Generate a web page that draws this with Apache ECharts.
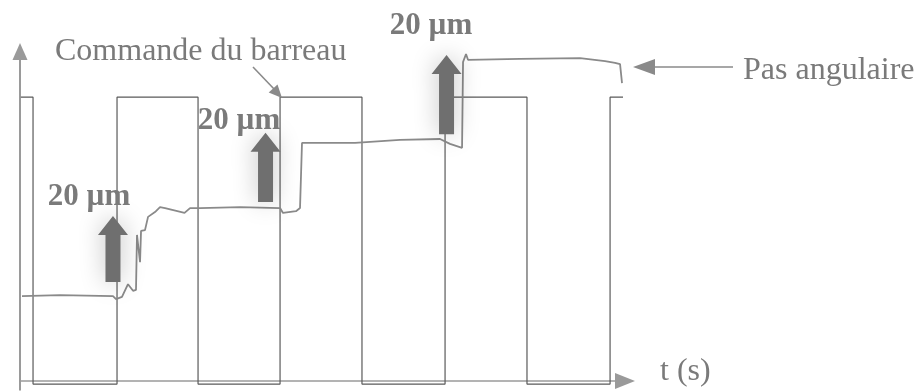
<!DOCTYPE html>
<html><head><meta charset="utf-8">
<script src="https://cdn.jsdelivr.net/npm/echarts@6/dist/echarts.min.js"></script>
<style>html,body{margin:0;padding:0;background:#fff}#c{width:917px;height:391px}</style>
</head><body><div id="c"></div>
<script>
// Time axis in half-periods of the command signal, vertical axis in arbitrary units (~20 per step)
const cmdT     = [0.01, 0.158, 1.176, 2.158, 3.152, 4.145, 5.152, 6.145, 7.152, 7.309];
const cmdLevel = [64.5, -0.7, 64.5, -0.7, 64.5, -0.7, 64.5, -0.7, 64.5, 64.5];

const stepT = [0.024, 0.485, 1.127, 1.164, 1.236, 1.309, 1.370, 1.406, 1.418, 1.430, 1.455, 1.467, 1.515, 1.552, 1.636, 1.697, 1.758, 1.994, 2.061, 2.182, 2.667, 3.152, 3.188, 3.345, 3.394, 3.418, 4.061, 4.606, 5.091, 5.212, 5.358, 5.370, 5.406, 5.430, 6.061, 6.788, 7.091, 7.212, 7.273, 7.297];
const stepV = [19.3, 19.5, 19.3, 18.6, 19.1, 22.0, 20.5, 20.7, 33.2, 33.6, 27.0, 34.1, 34.3, 37.3, 38.4, 39.5, 39.3, 38.2, 39.3, 39.3, 39.5, 39.3, 38.2, 38.6, 39.3, 54.1, 54.1, 54.8, 55.0, 53.9, 53.0, 72.5, 74.3, 73.0, 73.2, 73.4, 72.7, 72.3, 72.0, 67.7];

const arrowT    = [1.127, 2.976, 5.170];
const arrowFrom = [22.5, 40.7, 56.1];
const arrowTo   = [37.5, 56.4, 74.1];
const stepLabel = '20 µm';

const chart = echarts.init(document.getElementById('c'), null, {renderer: 'canvas'});
const serif = '"Liberation Serif", "Times New Roman", serif';
const txtCol = '#7a7a7a';

function txt(x, y, s, size, bold, align) {
  return {type: 'text', x: x, y: y, z: 50, silent: true,
    style: {text: s, font: (bold ? 'bold ' : '') + size + 'px ' + serif, fill: txtCol,
      textAlign: align, align: align, textVerticalAlign: 'middle', verticalAlign: 'middle'}};
}

chart.setOption({
  animation: false,
  backgroundColor: '#ffffff',
  grid: {left: 20, top: 51.44, width: 605, height: 338.36},
  xAxis: {type: 'value', min: 0, max: 7.333,
    axisLine: {onZero: true, symbol: ['none', 'triangle'], symbolSize: [16, 20], lineStyle: {color: '#9a9a9a', width: 1.5}},
    axisTick: {show: false}, axisLabel: {show: false}, splitLine: {show: false}},
  yAxis: {type: 'value', min: -2, max: 74.9,
    axisLine: {onZero: true, symbol: ['none', 'triangle'], symbolSize: [15, 17], lineStyle: {color: '#9a9a9a', width: 2}},
    axisTick: {show: false}, axisLabel: {show: false}, splitLine: {show: false}},
  series: [
    {type: 'line', name: 'Commande du barreau', step: 'end', symbol: 'none', z: 3,
      data: cmdT.map((t, i) => [t, cmdLevel[i]]),
      lineStyle: {color: '#5a5a5a', width: 1.2}},
    {type: 'line', name: 'Pas angulaire', symbol: 'none', z: 4,
      data: stepT.map((t, i) => [t, stepV[i]]),
      lineStyle: {color: '#8a8a8a', width: 1.8}},
    {type: 'custom', name: 'steps', z: 10,
      data: arrowT.map((t, i) => [t, arrowFrom[i], arrowTo[i]]),
      encode: {x: 0, y: [1, 2]},
      renderItem: function (params, api) {
        const p0 = api.coord([api.value(0), api.value(1)]);
        const p1 = api.coord([api.value(0), api.value(2)]);
        const cx = p0[0], sw = 7.5, hw = 15, hl = 19;
        return {type: 'polygon',
          shape: {points: [[cx - sw, p0[1]], [cx - sw, p1[1] + hl], [cx - hw, p1[1] + hl], [cx, p1[1]],
                           [cx + hw, p1[1] + hl], [cx + sw, p1[1] + hl], [cx + sw, p0[1]]]},
          style: {fill: '#6f6f6f', shadowBlur: 24, shadowColor: 'rgba(0,0,0,0.25)'}};
      }}
  ],
  graphic: [
    txt(55, 52, 'Commande du barreau', 32, false, 'left'),
    txt(743, 71, 'Pas angulaire', 32, false, 'left'),
    txt(660, 372, 't (s)', 32, false, 'left'),
    txt(89, 197, stepLabel, 31, true, 'center'),
    txt(239, 121, stepLabel, 31, true, 'center'),
    txt(431, 26, stepLabel, 31, true, 'center'),
    {type: 'line', z: 40, shape: {x1: 253, y1: 67, x2: 275, y2: 90}, style: {stroke: '#8a8a8a', lineWidth: 1.6}},
    {type: 'polygon', z: 40, shape: {points: [[282, 98], [268.7, 92.6], [277.5, 84.4]]}, style: {fill: '#8a8a8a'}},
    {type: 'line', z: 40, shape: {x1: 650, y1: 67, x2: 733, y2: 67}, style: {stroke: '#8a8a8a', lineWidth: 1.6}},
    {type: 'polygon', z: 40, shape: {points: [[633, 67], [655, 59], [655, 75]]}, style: {fill: '#8a8a8a'}}
  ]
});
</script>
</body></html>
